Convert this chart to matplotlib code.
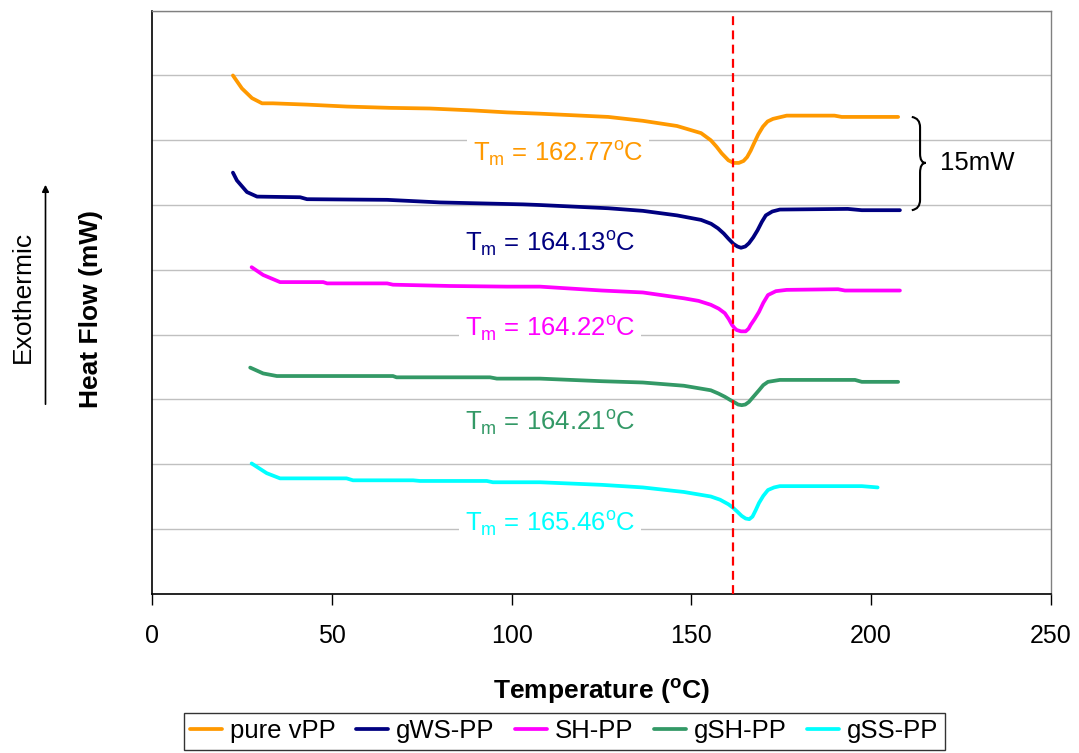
import matplotlib
matplotlib.use("Agg")
from matplotlib import pyplot as plt
from matplotlib.path import Path
from matplotlib.patches import PathPatch, FancyArrowPatch

plt.rcParams['font.family'] = ['Liberation Sans', 'DejaVu Sans']
plt.rcParams['mathtext.fontset'] = 'custom'
plt.rcParams['mathtext.rm'] = 'Liberation Sans'
plt.rcParams['mathtext.bf'] = 'Liberation Sans:bold'

# DSC curves, temperature (C) vs heat flow (mW, offset per sample)
vpp_t = [22.5, 25.0, 27.8, 30.6, 33.6, 43.1, 54.2, 66.2, 77.3, 89.3, 98.7, 107.9, 126.9, 136.5,
         146.0, 152.7, 155.4, 157.0, 158.4, 160.3, 161.8, 163.2, 164.5, 165.5, 166.5, 167.4, 168.6,
         169.9, 171.2, 172.7, 176.5, 189.8, 191.8, 207.5]
vpp_hf = [80.0, 78.0, 76.5, 75.7, 75.7, 75.5, 75.2, 75.0, 74.9, 74.6, 74.3, 74.1, 73.6, 73.0,
          72.2, 71.1, 70.0, 69.0, 68.0, 66.9, 66.5, 66.5, 66.8, 67.4, 68.4, 69.5, 70.9,
          72.1, 72.9, 73.3, 73.8, 73.8, 73.6, 73.6]

gws_t = [22.5, 23.6, 26.4, 29.2, 41.2, 43.1, 65.4, 80.1, 103.2, 107.9, 126.9, 136.5, 146.0, 152.7,
         155.5, 157.4, 159.0, 160.3, 161.7, 162.8, 163.8, 165.0, 166.0, 167.2, 168.4, 169.6,
         170.7, 172.5, 174.6, 193.5, 197.4, 208.0]
gws_hf = [65.0, 63.8, 62.0, 61.3, 61.2, 60.9, 60.8, 60.4, 60.1, 60.0, 59.5, 59.1, 58.4, 57.7,
          57.1, 56.4, 55.6, 54.8, 54.0, 53.6, 53.4, 53.6, 54.1, 55.0, 56.1, 57.4,
          58.4, 59.0, 59.3, 59.4, 59.2, 59.2]

sh_t = [27.7, 30.9, 35.6, 47.6, 48.7, 65.4, 67.0, 82.9, 98.7, 107.9, 125.1, 136.5, 147.9, 152.0,
        155.4, 157.6, 159.3, 160.4, 161.3, 162.0, 162.6, 163.8, 165.1, 165.9, 166.5, 167.6, 168.8,
        170.0, 171.3, 173.5, 176.5, 190.8, 192.7, 208.0]
sh_hf = [50.4, 49.2, 48.1, 48.1, 47.9, 47.9, 47.7, 47.5, 47.4, 47.4, 46.8, 46.5, 45.6, 45.2,
         44.6, 44.0, 43.3, 42.4, 41.5, 41.0, 40.7, 40.5, 40.5, 40.9, 41.5, 42.4, 43.5,
         44.9, 46.1, 46.7, 46.9, 47.0, 46.8, 46.8]

gsh_t = [27.3, 30.9, 34.7, 67.0, 68.0, 94.0, 95.9, 107.9, 125.1, 136.5, 147.9, 155.4, 157.5, 159.3,
         160.8, 162.1, 163.0, 164.0, 165.0, 166.0, 167.4, 168.8, 170.0, 171.3, 174.6, 195.5, 197.4, 207.5]
gsh_hf = [34.9, 34.0, 33.6, 33.6, 33.4, 33.4, 33.2, 33.2, 32.8, 32.6, 32.1, 31.4, 30.9, 30.4,
          29.9, 29.5, 29.2, 29.1, 29.2, 29.6, 30.5, 31.4, 32.2, 32.7, 33.0, 33.0, 32.7, 32.7]

gss_t = [27.7, 31.9, 35.6, 54.1, 55.9, 72.6, 74.5, 93.1, 94.8, 107.9, 125.1, 136.5, 147.9, 155.4,
         158.0, 160.3, 161.5, 162.7, 164.0, 165.1, 166.1, 167.0, 167.9, 168.8, 170.0, 171.3, 173.0,
         174.6, 197.4, 201.8]
gss_hf = [20.1, 18.6, 17.8, 17.8, 17.5, 17.5, 17.4, 17.4, 17.2, 17.2, 16.8, 16.4, 15.7, 15.0,
          14.5, 13.8, 13.3, 12.7, 12.0, 11.6, 11.5, 11.9, 12.9, 14.0, 15.1, 16.0, 16.4,
          16.6, 16.6, 16.4]

names = ['pure vPP', 'gWS-PP', 'SH-PP', 'gSH-PP', 'gSS-PP']
colors = ['#FF9900', '#000080', '#FF00FF', '#339966', '#00FFFF']
tm_values = ['162.77', '164.13', '164.22', '164.21', '165.46']
tm_line = 161.7

fig = plt.figure(figsize=(10.79, 7.53), dpi=100)
ax = fig.add_axes([0.1409, 0.2116, 0.974 - 0.1409, 0.9858 - 0.2116])

series = [(vpp_t, vpp_hf), (gws_t, gws_hf), (sh_t, sh_hf), (gsh_t, gsh_hf), (gss_t, gss_hf)]
for (t, hf), name, c in zip(series, names, colors):
    ax.plot(t, hf, color=c, lw=2.7, label=name, solid_capstyle='round',
            solid_joinstyle='round', zorder=3)

ax.axvline(tm_line, color='#FF0000', lw=1.6, dashes=(4, 2.4), zorder=4)

# Tm labels
label_pos = [(112.9, 68.0), (110.7, 54.1), (110.7, 40.9), (110.7, 26.5), (110.7, 10.8)]
for (x, y), tm, c in zip(label_pos, tm_values, colors):
    ax.text(x, y, r'T$_\mathrm{m}$ = ' + tm + r'$^\mathrm{o}$C', color=c, fontsize=18.5,
            ha='center', va='center', zorder=2,
            bbox=dict(facecolor='white', edgecolor='none', pad=4))

# 15 mW brace
verts = [(211.3, 73.6), (213.6, 73.4), (213.6, 72.0), (213.6, 67.9),
         (213.6, 66.5), (215.2, 66.5), (215.2, 66.5), (213.6, 66.5),
         (213.6, 65.0), (213.6, 60.8), (213.6, 59.4), (211.3, 59.2)]
codes = [Path.MOVETO, Path.CURVE3, Path.CURVE3, Path.LINETO,
         Path.CURVE3, Path.CURVE3, Path.LINETO, Path.CURVE3,
         Path.CURVE3, Path.LINETO, Path.CURVE3, Path.CURVE3]
ax.add_patch(PathPatch(Path(verts, codes), fill=False, lw=1.5, edgecolor='black', zorder=5))
ax.text(219.1, 66.5, '15mW', fontsize=18.5, ha='left', va='center')

ax.set_xlim(0, 250)
ax.set_ylim(0, 90)
ax.set_xticks(range(0, 251, 50))
ax.set_yticks(range(0, 91, 10))
ax.yaxis.grid(True, color='#C0C0C0', lw=1)
ax.set_axisbelow(True)
ax.tick_params(axis='y', length=0, labelleft=False)
ax.tick_params(axis='x', direction='out', length=8, width=1, labelsize=18, pad=14, color='black')
for s in ['left', 'bottom']:
    ax.spines[s].set_color('black')
    ax.spines[s].set_linewidth(1.2)
for s in ['top', 'right']:
    ax.spines[s].set_color('#808080')
    ax.spines[s].set_linewidth(1)

ax.set_xlabel(r'Temperature ($^\mathbf{o}$C)', fontsize=19, fontweight='bold', labelpad=20)
fig.text(91 / 1079, 1 - 309 / 753, 'Heat Flow (mW)', fontsize=19, fontweight='bold',
         rotation=90, ha='center', va='center')
fig.text(22.5 / 1079, 1 - 297 / 753, 'Exothermic', fontsize=19, rotation=90, ha='center', va='center')
fig.add_artist(FancyArrowPatch((45.5 / 1079, 1 - 407 / 753), (45.5 / 1079, 1 - 182 / 753),
                               transform=fig.transFigure, arrowstyle='-|>',
                               mutation_scale=10, lw=1.2, color='black'))

leg = fig.legend(loc='upper center', bbox_to_anchor=(0.523, 1 - 713 / 753), ncol=5, fontsize=18.5,
                 frameon=True, fancybox=False, edgecolor='black', handlelength=1.25,
                 handletextpad=0.3, columnspacing=0.8, borderpad=0.25, borderaxespad=0)
leg.get_frame().set_linewidth(1)

fig.savefig('out.png', dpi=100, facecolor='white')
